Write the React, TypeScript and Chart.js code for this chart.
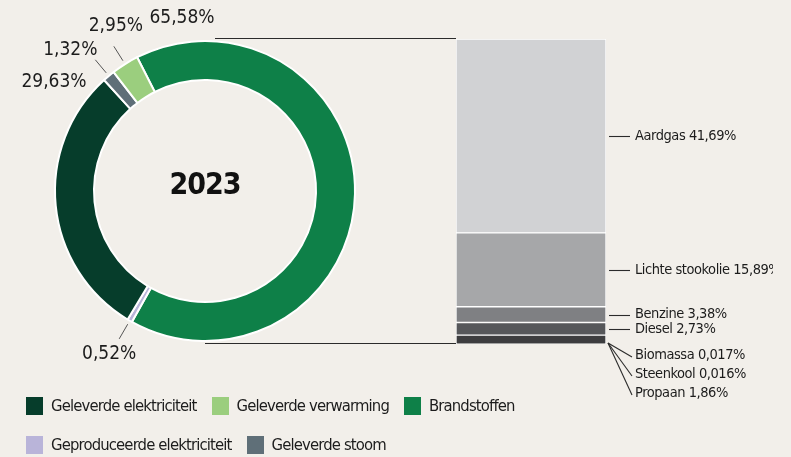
import React, { useEffect, useRef } from "react";
import { Chart, registerables } from "chart.js";

Chart.register(...registerables);

// ---------- data ----------
const YEAR = "2023";

const donutLabels = [
  "Brandstoffen",
  "Geproduceerde elektriciteit",
  "Geleverde elektriciteit",
  "Geleverde stoom",
  "Geleverde verwarming",
];
const donutValues = [65.58, 0.52, 29.63, 1.32, 2.95];
const donutValueTexts = ["65,58%", "0,52%", "29,63%", "1,32%", "2,95%"];
const donutColors = ["#0e8048", "#b9b4d9", "#063d2b", "#5f6f78", "#9bce7e"];

const fuelLabels = ["Biomassa", "Steenkool", "Propaan", "Diesel", "Benzine", "Lichte stookolie", "Aardgas"];
const fuelValues = [0.017, 0.016, 1.86, 2.73, 3.38, 15.89, 41.69];
const fuelValueTexts = ["0,017%", "0,016%", "1,86%", "2,73%", "3,38%", "15,89%", "41,69%"];
const fuelColors = ["#3b3b3d", "#3b3b3d", "#3d3d3f", "#56575a", "#7f8083", "#a6a7a9", "#d1d2d4"];

const legendRows = [
  ["Geleverde elektriciteit", "Geleverde verwarming", "Brandstoffen"],
  ["Geproduceerde elektriciteit", "Geleverde stoom"],
];

// ---------- style ----------
const BG = "#f2efea";
const TEXT = "#1c1c1c";
const LINE = "#2b2b2b";
const FONT = '"Liberation Sans Narrow", "DejaVu Sans Condensed", "Roboto", sans-serif';

const donutLabelStyle = [
  { kind: "free", dx: -23, dy: -173 },
  { kind: "leader", dx: -10, dy: 15 },
  { kind: "free", dx: -151, dy: -109 },
  { kind: "leader", dx: -25, dy: -10 },
  { kind: "leader", dx: 2, dy: -20 },
];

const donutLabelPlugin = {
  id: "donutLabels",
  afterDraw(chart: any) {
    const ctx = chart.ctx;
    const meta = chart.getDatasetMeta(0);
    ctx.save();
    const c = meta.data[0];
    ctx.fillStyle = "#111";
    ctx.font = `bold 30px ${FONT}`;
    (ctx as any).letterSpacing = "-1px";
    ctx.textAlign = "center";
    ctx.textBaseline = "middle";
    ctx.fillText(YEAR, c.x, c.y - 5);
    (ctx as any).letterSpacing = "0px";

    ctx.font = `19px ${FONT}`;
    meta.data.forEach((arc: any, i: number) => {
      const st = donutLabelStyle[i];
      const mid = (arc.startAngle + arc.endAngle) / 2;
      let tx: number, ty: number;
      if (st.kind === "leader") {
        const r0 = arc.outerRadius + 4;
        const r1 = arc.outerRadius + 21;
        const x0 = arc.x + Math.cos(mid) * r0;
        const y0 = arc.y + Math.sin(mid) * r0;
        const x1 = arc.x + Math.cos(mid) * r1;
        const y1 = arc.y + Math.sin(mid) * r1;
        ctx.strokeStyle = "#555";
        ctx.lineWidth = 1;
        ctx.beginPath();
        ctx.moveTo(x0, y0);
        ctx.lineTo(x1, y1);
        ctx.stroke();
        tx = x1 + st.dx;
        ty = y1 + st.dy;
      } else {
        tx = arc.x + st.dx;
        ty = arc.y + st.dy;
      }
      ctx.fillStyle = TEXT;
      ctx.fillText(donutValueTexts[i], tx, ty);
    });
    ctx.restore();
  },
};

const barLabelPlugin = {
  id: "barLabels",
  beforeDatasetsDraw(chart: any) {
    const ctx = chart.ctx;
    const top = chart.getDatasetMeta(fuelValues.length - 1).data[0];
    const bottom = chart.getDatasetMeta(0).data[0];
    const left = top.x - top.width / 2;
    ctx.save();
    ctx.strokeStyle = LINE;
    ctx.lineWidth = 1;
    ctx.beginPath();
    ctx.moveTo(215, Math.round(top.y) - 0.5);
    ctx.lineTo(left, Math.round(top.y) - 0.5);
    ctx.moveTo(205, Math.round(bottom.base) - 0.5);
    ctx.lineTo(left, Math.round(bottom.base) - 0.5);
    ctx.stroke();
    ctx.restore();
  },
  afterDraw(chart: any) {
    const ctx = chart.ctx;
    ctx.save();
    ctx.beginPath();
    ctx.rect(0, 0, 773, chart.height);
    ctx.clip();
    ctx.font = `14.5px ${FONT}`;
    (ctx as any).letterSpacing = "-0.45px";
    ctx.textAlign = "left";
    ctx.textBaseline = "middle";
    const base = chart.getDatasetMeta(0).data[0].base;
    const fanOrder = ["Biomassa", "Steenkool", "Propaan"];
    fuelLabels.forEach((name, i) => {
      const el = chart.getDatasetMeta(i).data[0];
      const right = el.x + el.width / 2;
      const midY = (el.y + el.base) / 2;
      ctx.strokeStyle = LINE;
      ctx.lineWidth = 1.1;
      ctx.beginPath();
      let ty: number;
      const fi = fanOrder.indexOf(name);
      if (fi >= 0) {
        ty = base + 11 + fi * 19;
        ctx.moveTo(right + 2, base - 1);
        ctx.lineTo(right + 26, ty + 2);
      } else {
        ty = midY;
        ctx.moveTo(right + 3, Math.round(midY) + 0.5);
        ctx.lineTo(right + 24, Math.round(midY) + 0.5);
      }
      ctx.stroke();
      ctx.fillStyle = TEXT;
      ctx.fillText(`${name} ${fuelValueTexts[i]}`, right + 29, ty);
    });
    ctx.restore();
  },
};

export default function App() {
  const donutRef = useRef<HTMLCanvasElement>(null);
  const barRef = useRef<HTMLCanvasElement>(null);

  useEffect(() => {
    const donut = new Chart(donutRef.current as HTMLCanvasElement, {
      type: "doughnut",
      data: {
        labels: donutLabels,
        datasets: [
          {
            data: donutValues,
            backgroundColor: donutColors,
            borderColor: "#ffffff",
            borderWidth: 2,
          },
        ],
      },
      options: {
        responsive: false,
        animation: false,
        rotation: -26.9,
        cutout: "74%",
        layout: { padding: { left: 54, top: 40, right: 435, bottom: 58 } },
        plugins: { legend: { display: false }, tooltip: { enabled: false } },
      },
      plugins: [donutLabelPlugin],
    });

    const bar = new Chart(barRef.current as HTMLCanvasElement, {
      type: "bar",
      data: {
        labels: [YEAR],
        datasets: fuelLabels.map((name, i) => ({
          label: name,
          data: [fuelValues[i]],
          backgroundColor: fuelColors[i],
          borderColor: "#ffffff",
          borderWidth: 1,
          borderSkipped: false,
          barPercentage: 1,
          categoryPercentage: 1,
        })),
      },
      options: {
        responsive: false,
        animation: false,
        layout: { padding: { left: 456, right: 185, top: 39, bottom: 56 } },
        scales: {
          x: { stacked: true, display: false },
          y: {
            stacked: true,
            display: false,
            min: 0,
            max: fuelValues.reduce((a, b) => a + b, 0),
          },
        },
        plugins: { legend: { display: false }, tooltip: { enabled: false } },
      },
      plugins: [barLabelPlugin],
    });

    return () => {
      donut.destroy();
      bar.destroy();
    };
  }, []);

  const colorOf = (name: string) => donutColors[donutLabels.indexOf(name)];

  return (
    <div
      style={{
        position: "fixed",
        left: 0,
        top: 0,
        width: 791,
        height: 457,
        background: BG,
        overflow: "hidden",
        fontFamily: FONT,
      }}
    >
      <canvas ref={donutRef} width={791} height={400} style={{ position: "absolute", left: 0, top: 0 }} />
      <canvas ref={barRef} width={791} height={400} style={{ position: "absolute", left: 0, top: 0 }} />
      <div style={{ position: "absolute", left: 26, top: 397 }}>
        {legendRows.map((row, ri) => (
          <div key={ri} style={{ display: "flex", alignItems: "center", height: 18, marginBottom: 21 }}>
            {row.map((name) => (
              <div key={name} style={{ display: "flex", alignItems: "center", marginRight: 15 }}>
                <span
                  style={{ display: "inline-block", width: 17, height: 18, background: colorOf(name), marginRight: 8 }}
                />
                <span
                  style={{
                    fontSize: 16.5,
                    letterSpacing: "-0.85px",
                    color: TEXT,
                    whiteSpace: "nowrap",
                    lineHeight: "18px",
                  }}
                >
                  {name}
                </span>
              </div>
            ))}
          </div>
        ))}
      </div>
    </div>
  );
}
